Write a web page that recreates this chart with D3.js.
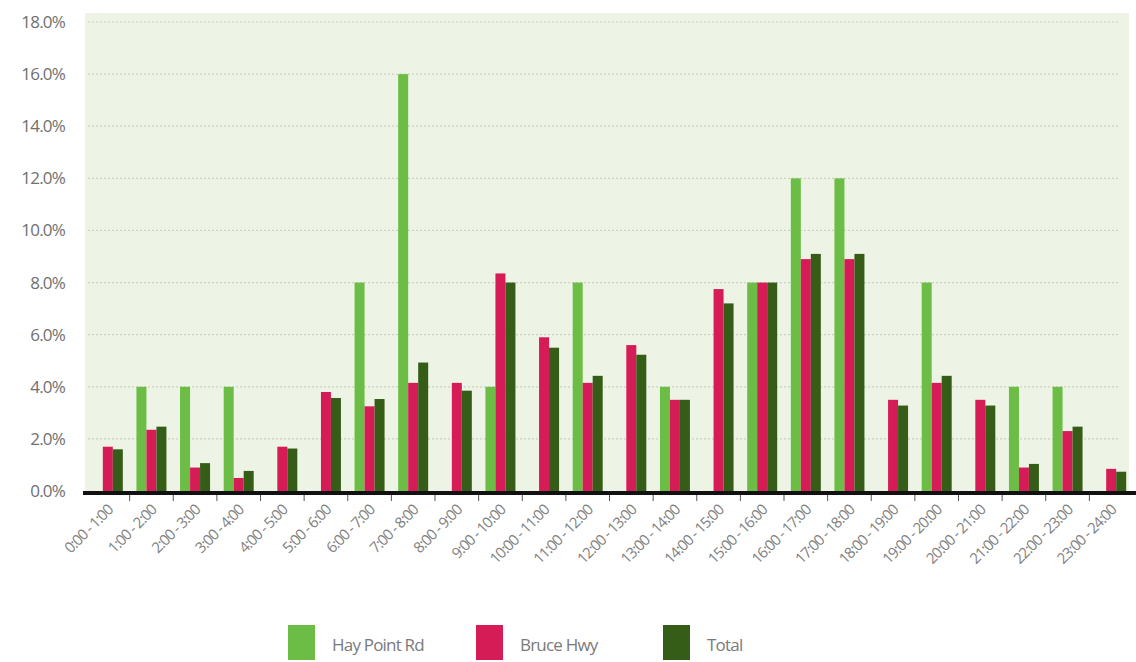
<!DOCTYPE html>
<html>
<head>
<meta charset="utf-8">
<script src="https://cdn.jsdelivr.net/npm/d3@7"></script>
<style>
  body { margin: 0; background: #fff; }
  svg { display: block; font-family: "Open Sans", "Noto Sans", sans-serif; }
</style>
</head>
<body>
<svg id="chart" width="1136" height="662"></svg>
<script>
const hours = ["0:00 - 1:00","1:00 - 2:00","2:00 - 3:00","3:00 - 4:00","4:00 - 5:00","5:00 - 6:00",
  "6:00 - 7:00","7:00 - 8:00","8:00 - 9:00","9:00 - 10:00","10:00 - 11:00","11:00 - 12:00",
  "12:00 - 13:00","13:00 - 14:00","14:00 - 15:00","15:00 - 16:00","16:00 - 17:00","17:00 - 18:00",
  "18:00 - 19:00","19:00 - 20:00","20:00 - 21:00","21:00 - 22:00","22:00 - 23:00","23:00 - 24:00"];
const seriesNames = ["Hay Point Rd", "Bruce Hwy", "Total"];
const hayPoint = [0, 4, 4, 4, 0, 0, 8, 16, 0, 4, 0, 8, 0, 4, 0, 8, 12, 12, 0, 8, 0, 4, 4, 0];
const bruceHwy = [1.7, 2.35, 0.9, 0.5, 1.7, 3.8, 3.25, 4.15, 4.15, 8.35, 5.9, 4.15, 5.6, 3.5, 7.75, 8.0, 8.9, 8.9, 3.5, 4.15, 3.5, 0.9, 2.3, 0.85];
const total = [1.6, 2.47, 1.07, 0.77, 1.63, 3.57, 3.53, 4.93, 3.85, 8.0, 5.5, 4.42, 5.23, 3.5, 7.2, 8.0, 9.1, 9.1, 3.28, 4.42, 3.28, 1.04, 2.47, 0.74];
const yTicks = [0, 2, 4, 6, 8, 10, 12, 14, 16, 18];
const colors = ["#6cbd45", "#d51c57", "#355d17"];

const svg = d3.select("#chart");
const x = d3.scaleBand().domain(hours).range([86, 1133]);
const xs = d3.scaleBand().domain(seriesNames).range([0, 30]).padding(0);
const y = d3.scaleLinear().domain([0, 18]).range([491, 22]);

// plot background
svg.append("rect")
  .attr("x", 85).attr("y", 13)
  .attr("width", 1044).attr("height", 478)
  .attr("fill", "#eef4e5");

// grid
svg.append("g").selectAll("line")
  .data(yTicks.filter(d => d > 0))
  .enter().append("line")
  .attr("x1", 88).attr("x2", 1120)
  .attr("y1", d => y(d)).attr("y2", d => y(d))
  .attr("stroke", "#c9d1bf")
  .attr("stroke-width", 1.2)
  .attr("stroke-dasharray", "2,2");

// y labels
svg.append("g").selectAll("text")
  .data(yTicks)
  .enter().append("text")
  .attr("x", 65).attr("y", d => y(d))
  .attr("dy", "0.35em")
  .attr("text-anchor", "end")
  .attr("fill", "#707070")
  .style("font-size", "17px")
  .style("letter-spacing", "-0.8px")
  .text(d => d.toFixed(1) + "%");

// bars
const data = [hayPoint, bruceHwy, total];
const groups = svg.append("g").selectAll("g")
  .data(hours)
  .enter().append("g")
  .attr("transform", d => `translate(${x(d) + x.bandwidth() / 2 - 15},0)`);

groups.selectAll("rect")
  .data((d, i) => seriesNames.map((s, k) => ({ s: s, k: k, v: data[k][i] })))
  .enter().append("rect")
  .attr("x", d => xs(d.s))
  .attr("width", xs.bandwidth())
  .attr("y", d => y(d.v))
  .attr("height", d => y(0) - y(d.v))
  .attr("fill", d => colors[d.k]);

// baseline
svg.append("line")
  .attr("x1", 83).attr("x2", 1136)
  .attr("y1", y(0) + 2).attr("y2", y(0) + 2)
  .attr("stroke", "#111").attr("stroke-width", 4);

// ticks between bands
svg.append("g").selectAll("line")
  .data(hours.slice(1))
  .enter().append("line")
  .attr("x1", d => x(d)).attr("x2", d => x(d))
  .attr("y1", y(0) + 4).attr("y2", y(0) + 10)
  .attr("stroke", "#555").attr("stroke-width", 1);

// x labels
svg.append("g").selectAll("text")
  .data(hours)
  .enter().append("text")
  .attr("transform", d => `translate(${x(d) + x.bandwidth() / 2 + 6},${y(0) + 20}) rotate(-45)`)
  .attr("text-anchor", "end")
  .attr("fill", "#808080")
  .style("font-size", "15px")
  .style("letter-spacing", "-1px")
  .text(d => d);

// legend
const legendX = [288, 476, 663];
const legend = svg.append("g").selectAll("g")
  .data(seriesNames)
  .enter().append("g")
  .attr("transform", (d, i) => `translate(${legendX[i]},625)`);
legend.append("rect")
  .attr("width", 27).attr("height", 35)
  .attr("fill", (d, i) => colors[i]);
legend.append("text")
  .attr("x", 44).attr("y", 20)
  .attr("dy", "0.35em")
  .attr("fill", "#7a7a7a")
  .style("font-size", "17px")
  .style("letter-spacing", "-0.8px")
  .text(d => d);
</script>
</body>
</html>
